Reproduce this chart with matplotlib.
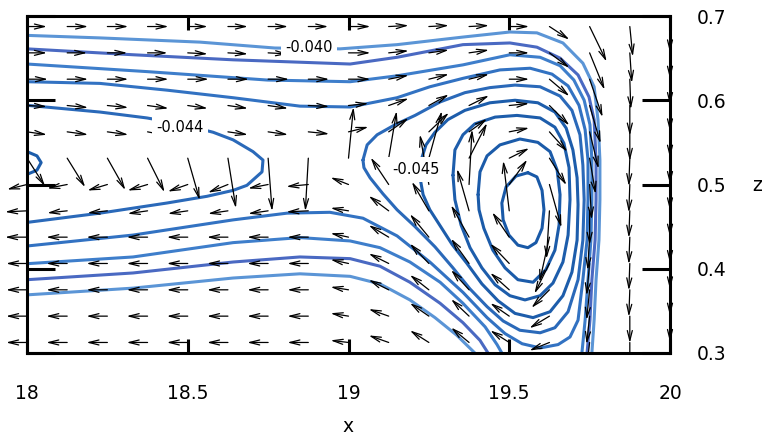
import matplotlib
matplotlib.use("Agg")
import matplotlib.pyplot as plt
from matplotlib.patches import FancyArrowPatch
from matplotlib.transforms import Bbox, TransformedBbox

# ---------------- vector field (gnuplot style "with vectors") ----------------
x_cols = [18.0, 18.125, 18.25, 18.375, 18.5, 18.625, 18.75, 18.875, 19.0,
          19.125, 19.25, 19.375, 19.5, 19.625, 19.75, 19.875, 20.0]
# rows listed from top (z=0.6875) to bottom (z=0.3125)
z_rows = [0.6875, 0.65625, 0.625, 0.59375, 0.5625, 0.53125, 0.5,
          0.46875, 0.4375, 0.40625, 0.375, 0.34375, 0.3125]

u = [
    [2.0, 2.1, 2.1, 2.1, 2.0, 2.0, 2.0, 2.0, 2.2, 2.0, 2.0, 2.0, 2.0, 2.0, 1.7, 0.3, 0.0],
    [2.0, 2.0, 2.0, 2.0, 2.0, 2.0, 2.0, 2.0, 2.2, 2.0, 2.0, 2.0, 2.0, 2.0, 1.5, 0.2, 0.0],
    [2.1, 2.1, 2.1, 2.1, 2.1, 2.1, 2.1, 2.1, 2.2, 2.0, 2.0, 2.0, 2.0, 2.0, 1.3, 0.1, 0.0],
    [2.0, 2.1, 2.1, 2.1, 2.0, 2.0, 2.0, 2.1, 2.0, 2.0, 2.0, 2.0, 2.0, 2.0, 1.1, 0.0, 0.0],
    [2.0, 2.1, 2.1, 2.1, 2.0, 2.0, 2.0, 2.1, 2.0, 2.0, 2.0, 1.8, 2.0, 1.8, 0.9, 0.0, 0.0],
    [1.8, 1.8, 1.8, 1.7, 1.2, 0.8, 0.4, -0.3, 0.5, 0.8, 1.3, 1.8, 2.0, 1.7, 0.6, -0.1, 0.0],
    [-2.0, -2.0, -2.0, -2.0, -2.0, -2.0, -2.0, -2.2, -1.8, -1.8, -0.9, 0.3, 1.8, 1.2, 0.2, -0.1, 0.0],
    [-2.2, -2.0, -2.0, -2.0, -2.0, -2.0, -2.0, -2.2, -1.8, -2.0, -1.7, -1.2, -0.6, -0.3, 0.0, -0.1, 0.0],
    [-2.2, -2.1, -2.1, -2.1, -2.1, -2.1, -2.1, -2.1, -1.8, -2.0, -1.9, -1.8, -1.7, -1.0, -0.2, -0.1, 0.0],
    [-2.1, -2.1, -2.1, -2.1, -2.1, -2.1, -2.1, -2.1, -1.8, -2.0, -1.9, -1.8, -1.9, -1.5, -0.3, -0.1, 0.0],
    [-2.1, -2.1, -2.1, -2.1, -2.1, -2.1, -2.1, -2.1, -1.8, -2.0, -1.9, -1.8, -1.9, -1.8, -0.3, -0.1, 0.0],
    [-2.1, -2.1, -2.1, -2.1, -2.1, -2.1, -2.1, -2.1, -1.8, -2.0, -1.9, -1.8, -1.9, -2.0, -0.3, 0.0, 0.0],
    [-2.1, -2.1, -2.1, -2.1, -2.1, -2.1, -2.1, -2.1, -1.8, -2.0, -1.9, -1.8, -1.9, -2.0, -0.3, 0.0, 0.0],
]
w = [
    [0, 0, 0, 0, 0, 0, 0, 0, 0, 0.04, 0.04, 0.04, 0, -0.50, -1.34, -1.15, -0.99],
    [0, 0, 0, 0, -0.04, -0.04, -0.04, -0.04, 0, 0.08, 0.11, 0.11, 0, -0.57, -1.41, -1.15, -0.99],
    [0, 0, 0, 0, 0, 0, 0, 0, 0, 0.15, 0.19, 0.19, 0, -0.65, -1.45, -1.15, -0.99],
    [-0.04, -0.08, -0.08, -0.11, -0.11, -0.11, -0.11, -0.04, 0.08, 0.27, 0.42, 0.38, 0.08, -0.76, -1.45, -1.15, -0.99],
    [-0.11, -0.11, -0.11, -0.15, -0.15, -0.11, -0.11, -0.08, 0.19, 0.53, 0.73, 0.50, 0.15, -0.76, -1.41, -1.11, -0.99],
    [-1.07, -1.11, -1.22, -1.30, -1.60, -1.91, -2.02, -2.02, 1.95, 1.80, 1.80, 1.34, 0.38, -1.03, -1.37, -1.07, -0.99],
    [-0.19, -0.15, -0.23, -0.23, -0.27, -0.31, -0.15, -0.08, 0.27, 1.03, 1.91, 2.10, 0.95, -1.64, -1.34, -1.07, -0.99],
    [-0.04, -0.08, -0.08, -0.11, -0.11, -0.11, -0.11, -0.04, 0.11, 0.57, 1.11, 1.60, 1.91, -1.83, -1.30, -1.03, -0.99],
    [0, 0, 0, 0, 0, 0, 0, 0, 0.15, 0.46, 0.88, 1.22, 0.95, -1.72, -1.26, -1.03, -0.99],
    [0, 0, 0, 0, 0, 0, 0, 0, 0.15, 0.38, 0.76, 0.95, 0.76, -1.15, -1.22, -1.03, -0.99],
    [0, 0, 0, 0, 0, 0, 0, 0, 0.11, 0.38, 0.57, 0.76, 0.65, -0.69, -1.15, -1.03, -0.99],
    [0, 0, 0, 0, 0, 0, 0, 0, 0.11, 0.27, 0.50, 0.65, 0.50, -0.46, -1.07, -1.03, -0.99],
    [0, 0, 0, 0, 0, 0, 0, 0, 0.08, 0.27, 0.46, 0.57, 0.46, -0.31, -0.99, -1.03, -0.99],
]
vec_scale = 0.0311

# ---------------- contour lines (x, z) ----------------
c040_top_x = [18.000, 18.227, 18.538, 18.771, 18.974, 19.151, 19.356, 19.502, 19.586, 19.667,
              19.729, 19.764, 19.776, 19.782, 19.782, 19.779, 19.770, 19.764, 19.757]
c040_top_z = [0.677, 0.674, 0.669, 0.662, 0.661, 0.666, 0.675, 0.681, 0.680, 0.668,
              0.644, 0.616, 0.577, 0.529, 0.482, 0.434, 0.387, 0.339, 0.300]
c041_top_x = [18.000, 18.330, 18.641, 19.005, 19.151, 19.356, 19.502, 19.586, 19.658, 19.714,
              19.748, 19.764, 19.770, 19.770, 19.767, 19.757, 19.751, 19.742]
c041_top_z = [0.661, 0.654, 0.648, 0.643, 0.651, 0.666, 0.668, 0.663, 0.650, 0.630,
              0.604, 0.577, 0.529, 0.482, 0.434, 0.387, 0.339, 0.300]
c042_top_x = [18.000, 18.373, 18.747, 19.005, 19.151, 19.356, 19.502, 19.596, 19.658, 19.701,
              19.733, 19.751, 19.757, 19.757, 19.754, 19.745, 19.736, 19.726]
c042_top_z = [0.643, 0.634, 0.624, 0.622, 0.629, 0.642, 0.654, 0.651, 0.641, 0.624,
              0.600, 0.571, 0.529, 0.482, 0.434, 0.387, 0.339, 0.300]
c043_x = [18.000, 18.227, 18.435, 18.641, 18.849, 19.005, 19.151, 19.253, 19.356, 19.471,
          19.565, 19.633, 19.683, 19.717, 19.736, 19.745, 19.745, 19.742, 19.729, 19.714,
          19.689, 19.652, 19.596, 19.540, 19.487, 19.431, 19.356, 19.253, 19.151, 19.045,
          18.942, 18.809, 18.641, 18.330, 18.000]
c043_z = [0.622, 0.620, 0.612, 0.603, 0.593, 0.592, 0.603, 0.616, 0.626, 0.636,
          0.638, 0.631, 0.617, 0.594, 0.565, 0.529, 0.482, 0.434, 0.387, 0.339,
          0.319, 0.310, 0.306, 0.311, 0.323, 0.342, 0.372, 0.408, 0.439, 0.460,
          0.467, 0.466, 0.458, 0.440, 0.427]
c044_left_x = [18.000, 18.227, 18.373, 18.476, 18.579, 18.641, 18.703, 18.734, 18.731, 18.684,
               18.641, 18.560, 18.435, 18.227, 18.000]
c044_left_z = [0.594, 0.586, 0.579, 0.572, 0.562, 0.553, 0.539, 0.529, 0.515, 0.499,
               0.493, 0.486, 0.478, 0.466, 0.455]
c044_loop_x = [19.045, 19.058, 19.089, 19.145, 19.207, 19.285, 19.362, 19.440, 19.518, 19.596,
               19.658, 19.695, 19.720, 19.729, 19.733, 19.729, 19.714, 19.683, 19.642, 19.596,
               19.533, 19.481, 19.431, 19.378, 19.325, 19.269, 19.207, 19.151, 19.107, 19.067,
               19.048, 19.045]
c044_loop_z = [0.529, 0.547, 0.559, 0.571, 0.582, 0.598, 0.609, 0.615, 0.618, 0.616,
               0.605, 0.588, 0.559, 0.523, 0.482, 0.434, 0.387, 0.349, 0.330, 0.324,
               0.327, 0.338, 0.355, 0.376, 0.401, 0.426, 0.450, 0.470, 0.489, 0.508,
               0.520, 0.529]
c045_left_x = [18.000, 18.031, 18.044, 18.031, 18.000]
c045_left_z = [0.539, 0.534, 0.526, 0.517, 0.512]
c045_loop_x = [19.222, 19.226, 19.241, 19.269, 19.309, 19.362, 19.440, 19.518, 19.589, 19.642,
               19.677, 19.698, 19.711, 19.714, 19.711, 19.695, 19.667, 19.627, 19.574, 19.518,
               19.465, 19.415, 19.369, 19.322, 19.285, 19.253, 19.232, 19.222]
c045_loop_z = [0.509, 0.529, 0.547, 0.562, 0.577, 0.588, 0.597, 0.600, 0.597, 0.586,
               0.567, 0.541, 0.508, 0.476, 0.434, 0.396, 0.368, 0.349, 0.342, 0.347,
               0.362, 0.382, 0.406, 0.429, 0.451, 0.470, 0.488, 0.509]
c046_x = [19.325, 19.331, 19.356, 19.393, 19.456, 19.524, 19.596, 19.642, 19.670, 19.686,
          19.689, 19.683, 19.667, 19.636, 19.596, 19.549, 19.502, 19.456, 19.415, 19.378,
          19.350, 19.331, 19.325]
c046_z = [0.511, 0.541, 0.559, 0.572, 0.580, 0.582, 0.579, 0.568, 0.549, 0.520,
          0.482, 0.440, 0.408, 0.383, 0.368, 0.363, 0.368, 0.381, 0.401, 0.425,
          0.452, 0.482, 0.511]
c047_x = [19.403, 19.409, 19.431, 19.471, 19.533, 19.589, 19.627, 19.649, 19.658, 19.655,
          19.642, 19.614, 19.574, 19.527, 19.487, 19.449, 19.421, 19.406, 19.403]
c047_z = [0.488, 0.515, 0.534, 0.547, 0.554, 0.550, 0.539, 0.517, 0.488, 0.452,
          0.422, 0.399, 0.384, 0.387, 0.401, 0.422, 0.448, 0.470, 0.488]
c048_x = [19.558, 19.586, 19.602, 19.608, 19.602, 19.583, 19.558, 19.527, 19.499, 19.481,
          19.477, 19.490, 19.521, 19.558]
c048_z = [0.514, 0.509, 0.493, 0.470, 0.448, 0.431, 0.425, 0.428, 0.440, 0.458,
          0.478, 0.497, 0.510, 0.514]
c042_bot_x = [18.000, 18.330, 18.641, 18.849, 19.005, 19.098, 19.191, 19.285, 19.356, 19.425,
              19.462, 19.477]
c042_bot_z = [0.406, 0.414, 0.431, 0.437, 0.433, 0.425, 0.408, 0.384, 0.359, 0.331,
              0.310, 0.300]
c041_bot_x = [18.000, 18.330, 18.641, 18.849, 19.005, 19.098, 19.191, 19.285, 19.356, 19.409,
              19.434]
c041_bot_z = [0.387, 0.395, 0.408, 0.414, 0.412, 0.403, 0.384, 0.359, 0.336, 0.315, 0.300]
c040_bot_x = [18.000, 18.330, 18.641, 18.849, 19.005, 19.098, 19.191, 19.269, 19.337, 19.393]
c040_bot_z = [0.369, 0.377, 0.389, 0.394, 0.391, 0.382, 0.363, 0.342, 0.321, 0.300]

level_colors = {-0.040: "#5b95d6", -0.041: "#4a69c2", -0.042: "#3e7ecb",
                -0.043: "#3272c2", -0.044: "#2a69b9", -0.045: "#1d5dab",
                -0.046: "#1d5dab", -0.047: "#1b5ba9", -0.048: "#1959a7"}

contour_lines = [
    (-0.040, c040_top_x, c040_top_z), (-0.040, c040_bot_x, c040_bot_z),
    (-0.041, c041_top_x, c041_top_z), (-0.041, c041_bot_x, c041_bot_z),
    (-0.042, c042_top_x, c042_top_z), (-0.042, c042_bot_x, c042_bot_z),
    (-0.043, c043_x, c043_z),
    (-0.044, c044_left_x, c044_left_z), (-0.044, c044_loop_x, c044_loop_z),
    (-0.045, c045_left_x, c045_left_z), (-0.045, c045_loop_x, c045_loop_z),
    (-0.046, c046_x, c046_z), (-0.047, c047_x, c047_z), (-0.048, c048_x, c048_z),
]

label_text = ["-0.040", "-0.044", "-0.045"]
label_x = [18.877, 18.476, 19.210]
label_z = [0.663, 0.568, 0.518]

xticks = [18, 18.5, 19, 19.5, 20]
xtick_labels = ["18", "18.5", "19", "19.5", "20"]
zticks = [0.3, 0.4, 0.5, 0.6, 0.7]
ztick_labels = ["0.3", "0.4", "0.5", "0.6", "0.7"]

fig = plt.figure(figsize=(7.65, 4.41), dpi=100)
ax = fig.add_axes([27 / 765, 1 - 353 / 441, 643 / 765, 337 / 441])

for lev, xs, zs in contour_lines:
    ax.plot(xs, zs, color=level_colors[lev], lw=2.2, solid_capstyle="round",
            solid_joinstyle="round", zorder=2)

ax.set_xlim(18, 20)
ax.set_ylim(0.3, 0.7)

# arrows may stick out on the left but are cut at top and bottom
clip = TransformedBbox(Bbox.from_extents(17.85, 0.3, 20.1, 0.7), ax.transData)
for k, z0 in enumerate(z_rows):
    for i, x0 in enumerate(x_cols):
        dx = u[k][i] * vec_scale
        dz = w[k][i] * vec_scale
        if dx == 0 and dz == 0:
            continue
        arr = FancyArrowPatch((x0, z0), (x0 + dx, z0 + dz),
                              arrowstyle="->,head_length=0.6,head_width=0.15",
                              mutation_scale=12, lw=0.9, color="black",
                              shrinkA=0, shrinkB=0, zorder=3)
        ax.add_patch(arr)
        arr.set_clip_path(None)
        arr.set_clip_box(clip)
        arr.set_clip_on(True)

for t, lx, lz in zip(label_text, label_x, label_z):
    ax.text(lx, lz, t, fontsize=10.5, ha="center", va="center", zorder=4,
            bbox=dict(boxstyle="square,pad=0.32", fc="white", ec="none"))

for sp in ax.spines.values():
    sp.set_linewidth(2.2)
    sp.set_zorder(5)

ax.set_xticks(xticks)
ax.set_xticklabels(xtick_labels)
ax.set_yticks(zticks)
ax.set_yticklabels(ztick_labels)
ax.tick_params(axis="x", direction="in", length=10, width=2.2, top=True, bottom=True,
               labelsize=13.5, pad=22)
ax.tick_params(axis="y", direction="in", length=20, width=2.2, left=True, right=True,
               labelleft=False, labelright=True, labelsize=13.5, pad=19)

ax.text(0.5, -0.217, "x", transform=ax.transAxes, ha="center", va="center", fontsize=13.5)
ax.text(1.1353, 0.497, "z", transform=ax.transAxes, ha="center", va="center", fontsize=13.5)

fig.savefig("out.png", dpi=100)
